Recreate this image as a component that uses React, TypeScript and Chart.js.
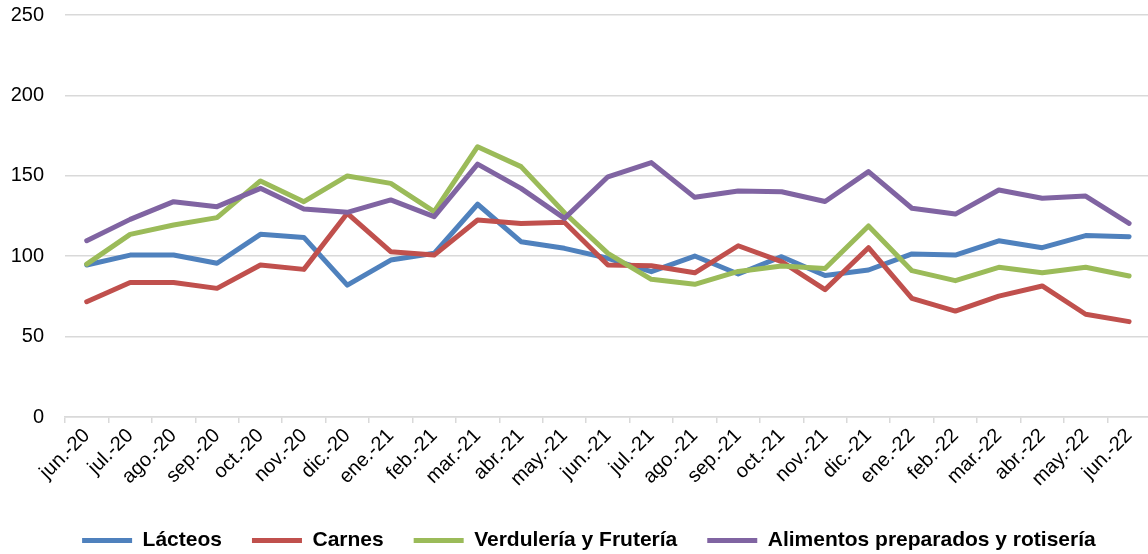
import React, { useEffect, useRef } from 'react';
import { Chart, registerables } from 'chart.js';

Chart.register(...registerables);

const months = [
  'jun.-20', 'jul.-20', 'ago.-20', 'sep.-20', 'oct.-20', 'nov.-20', 'dic.-20',
  'ene.-21', 'feb.-21', 'mar.-21', 'abr.-21', 'may.-21', 'jun.-21', 'jul.-21',
  'ago.-21', 'sep.-21', 'oct.-21', 'nov.-21', 'dic.-21', 'ene.-22', 'feb.-22',
  'mar.-22', 'abr.-22', 'may.-22', 'jun.-22',
];

const lacteos = [94.5, 100.7, 100.7, 95.6, 113.6, 111.7, 82, 97.6, 101.8, 132.3, 109, 104.9, 98.7, 90.4, 100.1, 88.9, 99.7, 88, 91.4, 101.4, 100.7, 109.6, 105.3, 112.8, 112.1];
const carnes = [71.7, 83.7, 83.7, 80, 94.5, 91.8, 126.7, 102.8, 100.7, 122.5, 120.4, 121.1, 94.5, 94.1, 89.7, 106.5, 96.6, 79.2, 105.3, 73.8, 65.9, 75.2, 81.5, 63.9, 59.3];
const verduleria = [95.1, 113.6, 119.4, 124, 146.8, 133.9, 149.9, 145.3, 127.7, 168.1, 155.7, 127, 101.8, 85.6, 82.5, 90.5, 93.9, 92.3, 118.8, 91, 84.8, 93.1, 89.7, 93.1, 87.7];
const alimentos = [109.6, 122.9, 133.9, 130.8, 142.2, 129.4, 127.3, 135, 124.6, 157.3, 142.2, 123.5, 149.4, 158.2, 136.6, 140.5, 140.1, 134, 152.6, 129.8, 126.2, 141.2, 136, 137.4, 120.4];

const seriesNames = ['Lácteos', 'Carnes', 'Verdulería y Frutería', 'Alimentos preparados y rotisería'];
const seriesColors = ['#4F81BD', '#C0504D', '#9BBB59', '#8064A2'];
const seriesValues = [lacteos, carnes, verduleria, alimentos];

const yMin = 0;
const yMax = 250;
const yStep = 50;

const FONT = "'Liberation Sans', Arial, sans-serif";

// shifts the centred legend row slightly to the right, as in the reference
const legendShift = {
  id: 'legendShift',
  afterLayout(chart: any) {
    if (chart.legend) {
      chart.legend.left += 13.5;
      chart.legend.right += 13.5;
    }
  },
};

export default function App() {
  const ref = useRef<HTMLCanvasElement>(null);

  useEffect(() => {
    if (!ref.current) return;
    const chart = new Chart(ref.current, {
      type: 'line',
      data: {
        labels: months,
        datasets: seriesValues.map((vals, i) => ({
          label: seriesNames[i],
          data: vals,
          borderColor: seriesColors[i],
          backgroundColor: seriesColors[i],
          borderWidth: 5,
          pointRadius: 0,
          pointHoverRadius: 0,
          borderCapStyle: 'round',
          borderJoinStyle: 'round',
          tension: 0,
          fill: false,
          order: seriesValues.length - i,
        })),
      },
      options: {
        animation: false,
        responsive: false,
        layout: { padding: { left: 0, top: 15, right: 1.2, bottom: 0 } },
        scales: {
          x: {
            offset: true,
            grid: {
              offset: true,
              drawOnChartArea: false,
              drawTicks: true,
              tickLength: 6,
              color: '#d9d9d9',
              lineWidth: 1.5,
            },
            border: { display: true, color: '#d9d9d9', width: 1.5 },
            ticks: {
              autoSkip: false,
              minRotation: 45,
              maxRotation: 45,
              padding: 1,
              color: '#000',
              font: { family: FONT, size: 20 },
            },
            afterFit: (s: any) => { s.height = 83; },
          },
          y: {
            min: yMin,
            max: yMax,
            ticks: {
              stepSize: yStep,
              padding: 0,
              color: '#000',
              font: { family: FONT, size: 20 },
            },
            grid: {
              color: '#d9d9d9',
              lineWidth: 1.5,
              drawTicks: true,
              tickLength: 21,
              tickColor: 'rgba(0,0,0,0)',
            },
            border: { display: false },
            afterFit: (s: any) => { s.width = 65; },
          },
        },
        plugins: {
          legend: {
            position: 'bottom',
            labels: {
              usePointStyle: true,
              pointStyle: 'line',
              pointStyleWidth: 50,
              padding: 30,
              color: '#000',
              font: { family: FONT, size: 21, weight: 'bold' },
              sort: (a: any, b: any) => a.datasetIndex - b.datasetIndex,
            },
          },
          tooltip: { enabled: false },
        },
      } as any,
      plugins: [legendShift],
    });
    return () => chart.destroy();
  }, []);

  return (
    <div style={{ position: 'fixed', left: 0, top: 0, width: 1152, height: 561, overflow: 'hidden', background: '#fff' }}>
      <canvas ref={ref} width={1152} height={561} style={{ display: 'block' }} />
    </div>
  );
}
